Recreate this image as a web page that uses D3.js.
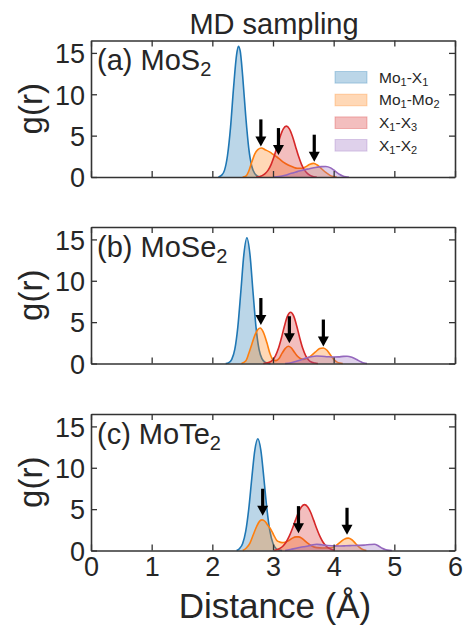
<!DOCTYPE html>
<html>
<head>
<meta charset="utf-8">
<script src="https://cdn.jsdelivr.net/npm/d3@7"></script>
<style>
  html, body { margin: 0; padding: 0; background: #fff; }
  svg text { font-family: "Liberation Sans", Arial, sans-serif; fill: #262626; }
</style>
</head>
<body>
<svg id="chart" width="473" height="628"></svg>
<script>
// ---- data: radial distribution g(r) from MD sampling, [r (Å), g(r)] ----
const xTicks = [0, 1, 2, 3, 4, 5, 6];
const yTicks = [0, 5, 10, 15];
const seriesLabels = ["Mo_1-X_1", "Mo_1-Mo_2", "X_1-X_3", "X_1-X_2"];
const seriesColors = ["#1f77b4", "#ff7f0e", "#d62728", "#9467bd"];
const panelLabels = ["(a) MoS_2", "(b) MoSe_2", "(c) MoTe_2"];

// MoS2
const mos2_Mo1X1 = [[2.10,0],[2.15,0.2],[2.20,0.8],[2.25,2.6],[2.30,6.0],[2.35,10.8],[2.40,14.8],[2.43,15.8],[2.46,15.2],[2.50,12.2],[2.55,7.4],[2.60,3.5],[2.65,1.3],[2.70,0.4],[2.75,0.1],[2.80,0]];
const mos2_Mo1Mo2 = [[2.50,0],[2.55,0.1],[2.60,0.7],[2.65,1.8],[2.70,2.8],[2.75,3.3],[2.81,3.5],[2.87,3.3],[2.95,3.0],[3.00,2.75],[3.06,2.45],[3.12,2.1],[3.17,1.8],[3.25,1.45],[3.33,1.2],[3.40,1.05],[3.47,1.05],[3.53,1.2],[3.60,1.5],[3.67,1.65],[3.73,1.45],[3.80,1.0],[3.87,0.55],[3.94,0.2],[4.00,0.05],[4.05,0]];
const mos2_X1X3 = [[2.72,0],[2.77,0.04],[2.82,0.17],[2.87,0.41],[2.92,0.83],[2.97,1.53],[3.02,2.53],[3.07,3.73],[3.12,4.93],[3.17,5.82],[3.22,6.15],[3.27,5.82],[3.32,4.93],[3.37,3.73],[3.42,2.53],[3.47,1.53],[3.52,0.83],[3.57,0.41],[3.62,0.17],[3.67,0.04],[3.72,0]];
const mos2_X1X2 = [[3.00,0],[3.10,0.05],[3.20,0.2],[3.30,0.45],[3.40,0.65],[3.50,0.85],[3.60,1.0],[3.70,1.15],[3.80,1.25],[3.87,1.27],[3.95,1.1],[4.00,0.85],[4.05,0.55],[4.10,0.3],[4.15,0.12],[4.20,0.03],[4.25,0]];
const mos2_arrows = [[2.80,3.7],[3.09,2.65],[3.68,1.85]];

// MoSe2
const mose2_Mo1X1 = [[2.22,0],[2.27,0.1],[2.32,0.5],[2.37,1.7],[2.42,4.4],[2.47,8.7],[2.52,13.2],[2.57,15.2],[2.62,13.2],[2.67,8.7],[2.72,4.4],[2.77,1.7],[2.82,0.55],[2.87,0.15],[2.92,0.03],[2.96,0]];
const mose2_Mo1Mo2 = [[2.48,0],[2.55,0.3],[2.60,1.2],[2.65,2.3],[2.70,3.4],[2.75,4.1],[2.79,4.3],[2.84,3.8],[2.90,2.5],[2.95,1.2],[3.00,0.45],[3.05,0.35],[3.10,0.6],[3.15,1.25],[3.20,1.8],[3.25,2.08],[3.30,1.9],[3.35,1.4],[3.40,0.9],[3.45,0.6],[3.50,0.5],[3.55,0.6],[3.62,0.9],[3.70,1.4],[3.77,1.8],[3.83,1.88],[3.89,1.6],[3.95,1.0],[4.00,0.5],[4.05,0.2],[4.10,0.05],[4.15,0]];
const mose2_X1X3 = [[2.84,0],[2.89,0.05],[2.94,0.15],[2.99,0.40],[3.04,0.92],[3.09,1.83],[3.14,3.12],[3.19,4.57],[3.24,5.75],[3.29,6.2],[3.34,5.75],[3.39,4.57],[3.44,3.12],[3.49,1.83],[3.54,0.92],[3.59,0.40],[3.64,0.15],[3.69,0.05],[3.74,0]];
const mose2_X1X2 = [[3.20,0],[3.30,0.1],[3.40,0.3],[3.50,0.55],[3.56,0.7],[3.65,0.85],[3.72,0.9],[3.80,0.88],[3.90,0.82],[4.00,0.78],[4.08,0.8],[4.16,0.86],[4.22,0.88],[4.30,0.75],[4.38,0.48],[4.45,0.2],[4.50,0.05],[4.55,0]];
const mose2_arrows = [[2.80,4.65],[3.27,2.45],[3.83,2.05]];

// MoTe2
const mote2_Mo1X1 = [[2.40,0],[2.45,0.25],[2.50,0.85],[2.55,2.3],[2.60,5.0],[2.65,8.7],[2.70,12.1],[2.75,13.5],[2.80,12.1],[2.85,8.7],[2.90,5.0],[2.95,2.3],[3.00,0.85],[3.05,0.25],[3.10,0.06],[3.15,0]];
const mote2_Mo1Mo2 = [[2.50,0],[2.56,0.3],[2.62,0.9],[2.68,2.0],[2.73,2.9],[2.78,3.55],[2.82,3.7],[2.87,3.5],[2.92,3.0],[2.96,2.6],[3.01,1.9],[3.06,1.25],[3.10,1.05],[3.15,0.95],[3.20,1.0],[3.26,1.2],[3.32,1.5],[3.38,1.65],[3.42,1.65],[3.48,1.45],[3.56,0.95],[3.64,0.55],[3.72,0.35],[3.82,0.3],[3.94,0.32],[4.02,0.5],[4.10,0.95],[4.17,1.35],[4.24,1.5],[4.30,1.3],[4.36,0.85],[4.42,0.4],[4.48,0.12],[4.54,0]];
const mote2_X1X3 = [[3.02,0],[3.07,0.13],[3.12,0.29],[3.17,0.58],[3.22,1.06],[3.27,1.76],[3.32,2.66],[3.37,3.67],[3.42,4.62],[3.47,5.3],[3.52,5.55],[3.57,5.3],[3.62,4.62],[3.67,3.67],[3.72,2.66],[3.77,1.76],[3.82,1.06],[3.87,0.58],[3.92,0.29],[3.97,0.13],[4.02,0]];
const mote2_X1X2 = [[3.20,0],[3.30,0.15],[3.40,0.3],[3.50,0.45],[3.58,0.55],[3.66,0.7],[3.72,0.75],[3.80,0.7],[3.90,0.6],[4.00,0.57],[4.10,0.55],[4.20,0.57],[4.30,0.6],[4.40,0.62],[4.50,0.65],[4.60,0.72],[4.67,0.75],[4.74,0.55],[4.80,0.28],[4.86,0.1],[4.92,0.02],[4.96,0]];
const mote2_arrows = [[2.83,4.2],[3.42,2.1],[4.22,1.9]];

const panels = [
  { label: panelLabels[0], series: [mos2_Mo1X1, mos2_Mo1Mo2, mos2_X1X3, mos2_X1X2], arrows: mos2_arrows },
  { label: panelLabels[1], series: [mose2_Mo1X1, mose2_Mo1Mo2, mose2_X1X3, mose2_X1X2], arrows: mose2_arrows },
  { label: panelLabels[2], series: [mote2_Mo1X1, mote2_Mo1Mo2, mote2_X1X3, mote2_X1X2], arrows: mote2_arrows }
];

// ---- layout ----
const svg = d3.select("#chart");
const plotLeft = 91, plotRight = 455;
const panelTops = [40.5, 227, 414];
const panelH = 136.5;
const axisColor = "#333";

const x = d3.scaleLinear().domain([0, 6]).range([plotLeft, plotRight]);

// text with "_d" marking a subscript digit
function richText(sel, str, subSize, subShift) {
  const parts = str.split(/_(\d)/);
  let shifted = false;
  parts.forEach((p, i) => {
    if (p === "") return;
    const isSub = i % 2 === 1;
    const t = sel.append("tspan").text(p);
    if (isSub) {
      t.attr("font-size", subSize).attr("dy", shifted ? 0 : subShift);
      shifted = true;
    } else if (shifted) {
      t.attr("dy", -subShift);
      shifted = false;
    }
  });
}

svg.append("text")
  .attr("x", 274).attr("y", 34)
  .attr("text-anchor", "middle")
  .attr("font-size", 29)
  .text("MD sampling");

panels.forEach((panel, pi) => {
  const top = panelTops[pi];
  const bottom = top + panelH;
  const y = d3.scaleLinear().domain([0, 16.5]).range([bottom, top]);
  const g = svg.append("g");

  const area = d3.area().x(d => x(d[0])).y0(y(0)).y1(d => y(d[1])).curve(d3.curveMonotoneX);
  const line = d3.line().x(d => x(d[0])).y(d => y(d[1])).curve(d3.curveMonotoneX);

  panel.series.forEach((s, si) => {
    g.append("path").attr("d", area(s))
      .attr("fill", seriesColors[si]).attr("fill-opacity", 0.3).attr("stroke", "none");
    g.append("path").attr("d", line(s))
      .attr("fill", "none").attr("stroke", seriesColors[si]).attr("stroke-width", 1.6);
  });

  // arrows marking the Mo1-Mo2 peaks
  const arrowLen = 27, headH = 10, headW = 11, shaftW = 3.2;
  panel.arrows.forEach(a => {
    const ax = x(a[0]), ay = y(a[1]);
    g.append("rect")
      .attr("x", ax - shaftW / 2).attr("y", ay - arrowLen)
      .attr("width", shaftW).attr("height", arrowLen - headH + 1)
      .attr("fill", "#000");
    g.append("path")
      .attr("d", `M${ax - headW / 2},${ay - headH}L${ax + headW / 2},${ay - headH}L${ax},${ay}Z`)
      .attr("fill", "#000");
  });

  // axes with inward ticks on all four sides
  const styleAxis = sel => {
    sel.selectAll(".domain").attr("stroke", axisColor).attr("stroke-width", 1.6);
    sel.selectAll(".tick line").attr("stroke", axisColor).attr("stroke-width", 1.3);
    sel.selectAll(".tick text").attr("fill", "#262626")
      .style("font-family", '"Liberation Sans", Arial, sans-serif');
  };

  const left = g.append("g").attr("transform", `translate(${plotLeft},0)`)
    .call(d3.axisLeft(y).tickValues(yTicks).tickSizeInner(-6).tickSizeOuter(0).tickPadding(6));
  left.selectAll(".tick text").attr("font-size", 27).attr("dy", "0.36em");
  styleAxis(left);

  const right = g.append("g").attr("transform", `translate(${plotRight},0)`)
    .call(d3.axisRight(y).tickValues(yTicks).tickSizeInner(-6).tickSizeOuter(0).tickFormat(""));
  styleAxis(right);

  const topAx = g.append("g").attr("transform", `translate(0,${top})`)
    .call(d3.axisTop(x).tickValues(xTicks).tickSizeInner(-6).tickSizeOuter(0).tickFormat(""));
  styleAxis(topAx);

  const bot = g.append("g").attr("transform", `translate(0,${bottom})`)
    .call(d3.axisBottom(x).tickValues(xTicks).tickSizeInner(-6).tickSizeOuter(0)
      .tickPadding(6).tickFormat(pi === panels.length - 1 ? d3.format("d") : ""));
  bot.selectAll(".tick text").attr("font-size", 27).attr("dy", "0.71em");
  styleAxis(bot);

  // y label
  svg.append("text")
    .attr("transform", `translate(42,${top + panelH / 2}) rotate(-90)`)
    .attr("text-anchor", "middle")
    .attr("font-size", 33)
    .text("g(r)");

  // panel label
  const pl = svg.append("text")
    .attr("x", 97).attr("y", top + 29.5)
    .attr("font-size", 29);
  richText(pl, panel.label, 20, 6);

  // legend in the first panel
  if (pi === 0) {
    const lg = svg.append("g");
    const rowY = [77.3, 100, 122.7, 145.3];
    seriesLabels.forEach((lab, li) => {
      lg.append("rect")
        .attr("x", 335).attr("y", rowY[li] - 5.8)
        .attr("width", 32).attr("height", 11.6)
        .attr("fill", seriesColors[li]).attr("fill-opacity", 0.3)
        .attr("stroke", seriesColors[li]).attr("stroke-opacity", 0.3).attr("stroke-width", 1);
      const t = lg.append("text")
        .attr("x", 379).attr("y", rowY[li] + 5.3)
        .attr("font-size", 15.5);
      richText(t, lab, 11, 3);
    });
  }
});

svg.append("text")
  .attr("x", 275).attr("y", 618)
  .attr("text-anchor", "middle")
  .attr("font-size", 35)
  .text("Distance (Å)");
</script>
</body>
</html>
